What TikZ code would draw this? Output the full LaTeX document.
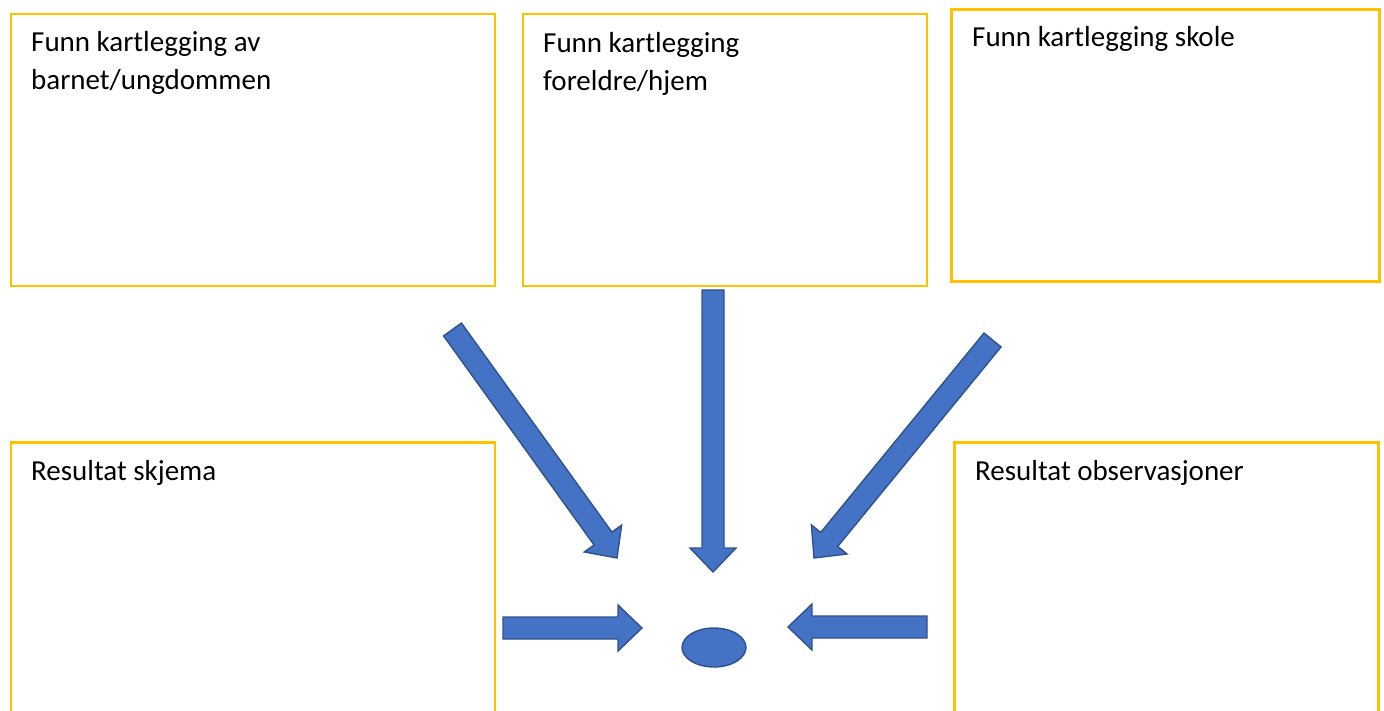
\documentclass[tikz,border=0pt]{standalone}
\usepackage{fontspec}
\setmainfont{Carlito}
\usetikzlibrary{calc,shapes.geometric}
\definecolor{boxline}{HTML}{FFC000}
\definecolor{arrfill}{HTML}{4472C4}
\definecolor{arrline}{HTML}{2F528F}
\tikzset{
  frame/.style={draw=boxline, line width=2.5pt, fill=white, rectangle, inner sep=0pt},
  boxtext/.style={anchor=base west, inner sep=0pt, font=\fontsize{29}{38}\selectfont, align=left},
  arrowbody/.style={fill=arrfill, draw=arrline, line width=1.4pt, line join=miter},
  target/.style={ellipse, fill=arrfill, draw=arrline, line width=1.4pt, minimum width=64pt, minimum height=39pt, inner sep=0pt}
}
\newcommand\blkarrow[2]{%
  \coordinate (bt) at (#1);
  \coordinate (bh) at (#2);
  \coordinate (hb) at ($(bh)!24pt!(bt)$);
  \draw[arrowbody] ($(bt)!11pt!90:(bh)$) -- ($(hb)!11pt!-90:(bt)$) -- ($(hb)!23pt!-90:(bt)$) -- (bh)
    -- ($(hb)!23pt!90:(bt)$) -- ($(hb)!11pt!90:(bt)$) -- ($(bt)!11pt!-90:(bh)$) -- cycle;}
\begin{document}
\begin{tikzpicture}[x=1pt,y=-1pt]
\useasboundingbox (0,0) rectangle (1384,711);
\clip (0,0) rectangle (1384,711);
% boxes
\node[frame, minimum width=484pt, minimum height=272pt, anchor=north west] (b1) at (9.5,13) {};
\node[frame, minimum width=404pt, minimum height=272pt, anchor=north west] (b2) at (521.5,13) {};
\node[frame, minimum width=428pt, minimum height=272pt, anchor=north west] (b3) at (950,8.5) {};
\node[frame, minimum width=484pt, minimum height=300pt, anchor=north west] (b4) at (9.5,441) {};
\node[frame, minimum width=424pt, minimum height=300pt, anchor=north west] (b5) at (953,441) {};
% texts (two-line nodes: anchor at last baseline)
\node[boxtext] (t1) at (31,90) {Funn kartlegging av\\barnet/ungdommen};
\node[boxtext] (t2) at (543,91) {Funn kartlegging\\foreldre/hjem};
\node[boxtext] (t3) at (972,47) {Funn kartlegging skole};
\node[boxtext] (t4) at (31,480) {Resultat skjema};
\node[boxtext] (t5) at (975,480) {Resultat observasjoner};
% target
\node[target] (c) at (714,647.5) {};
% arrow coordinates
\coordinate (a1t) at (452.5,329.5);
\coordinate (a1h) at (617,558);
\coordinate (a2t) at (713,290);
\coordinate (a2h) at (713,572);
\coordinate (a3t) at (992.5,340);
\coordinate (a3h) at (814,558);
\coordinate (a4t) at (503,628);
\coordinate (a4h) at (642,628);
\coordinate (a5t) at (927,627);
\coordinate (a5h) at (788,627);
\blkarrow{a1t}{a1h}
\blkarrow{a2t}{a2h}
\blkarrow{a3t}{a3h}
\blkarrow{a4t}{a4h}
\blkarrow{a5t}{a5h}
\end{tikzpicture}
\end{document}
